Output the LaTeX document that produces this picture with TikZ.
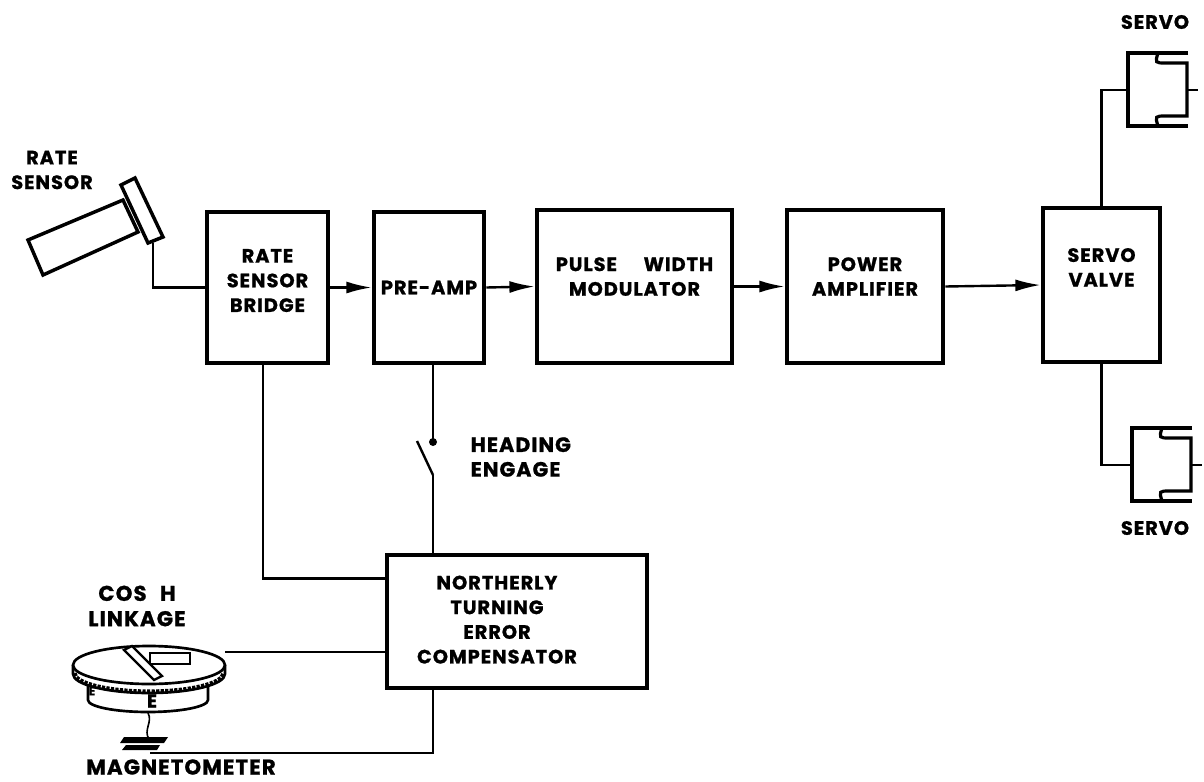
\documentclass[tikz,border=0pt]{standalone}
\usepackage{fontspec}
\setmainfont{Poppins}[LetterSpace=5, BoldFeatures={FakeBold=1}]
\usetikzlibrary{arrows.meta}
\newcommand{\dfont}{\fontsize{14.5}{18.5}\selectfont\bfseries}

\begin{document}
\begin{tikzpicture}[x=0.75pt,y=-0.75pt]
% styles
\tikzstyle{block} = [rectangle, draw, line width=3.4pt, inner sep=0pt, align=center, font=\dfont]
\tikzstyle{lbl} = [font=\dfont, align=center]
\tikzstyle{wire} = [line width=1.8pt]
\tikzstyle{sig} = [wire, -{Latex[length=19pt,width=9pt]}]
\tikzset{servo/.pic={
    \draw[line width=2.8pt] (60,0) -- (0,0) -- (0,73) -- (60,73);
    \draw[line width=2.4pt] (30,0) .. controls (27,10) .. (38,10) -- (59,10) -- (59,63) -- (38,63) .. controls (27,63) .. (30,73);
    \draw[line width=1.8pt] (59,37) -- (70,37);
}}
\useasboundingbox (0,0) rectangle (1204,782);

% main chain
\node[block, minimum width=90.75pt, minimum height=113.25pt] (bridge) at (267.5,287.5) {RATE\\SENSOR\\BRIDGE\\[-8pt]\mbox{}};
\node[block, minimum width=82.5pt, minimum height=113.25pt] (preamp) at (429,287.5) {PRE-AMP};
\node[block, minimum width=146.25pt, minimum height=114.75pt] (pwm) at (634.5,286.5) {PULSE\hspace{20pt}WIDTH\\MODULATOR\\[-3.5pt]\mbox{}};
\node[block, minimum width=117pt, minimum height=114.75pt] (pamp) at (865,286.5) {POWER\\AMPLIFIER\\[-3.5pt]\mbox{}};
\node[block, minimum width=87.75pt, minimum height=115.5pt] (valve) at (1101.5,285) {SERVO\\VALVE\\[8pt]\mbox{}};
\node[block, minimum width=195pt, minimum height=99.75pt] (comp) at (517,621.5) {\begin{tabular}{@{}c@{\hspace{30pt}}}NORTHERLY\\TURNING\\ERROR\\COMPENSATOR\end{tabular}};

\draw[sig] (bridge.east) -- (preamp.west);
\draw[sig] (preamp.east) -- (pwm.west);
\draw[sig] (pwm.east) -- (pamp.west);
\draw[sig] (pamp.east) -- (valve.west);

% rate sensor
\draw[line width=2.6pt, fill=white] (28,240) -- (123,200) -- (138,232) -- (43,275) -- cycle;
\draw[line width=2.6pt, fill=white] (121,185) -- (135,178) -- (163,237) -- (148,243) -- cycle;
\coordinate (sensor) at (153,243);
\node[lbl] (sensor-lbl) at (52,170) {RATE\\SENSOR};
\draw[wire] (sensor) |- (bridge.west);

% servos
\pic at (1128,53) {servo};
\pic at (1132,428) {servo};
\coordinate (servoA) at (1128,90);
\coordinate (servoB) at (1132,465);
\draw[wire] (valve.north) |- (servoA);
\draw[wire] (valve.south) |- (servoB);
\node[lbl] (servoA-lbl) at (1155,22) {SERVO};
\node[lbl] (servoB-lbl) at (1155,528) {SERVO};

% heading switch
\coordinate (sw-top) at (433,442);
\coordinate (sw-pivot) at (433,475);
\draw[wire] (preamp.south -| sw-top) -- (sw-top);
\fill (sw-top) circle[radius=4];
\draw[wire] (sw-pivot) -- (417,441);
\draw[wire] (sw-pivot) -- (sw-pivot |- comp.north);
\node[lbl, anchor=west, align=left, font=\bfseries\fontsize{15.5}{18.5}\selectfont] (engage) at (466,457) {HEADING\\ENGAGE};
\draw[wire] (bridge.south -| 263,0) |- (comp.162);

% magnetometer
\draw[line width=2pt, fill=white] (88,678) -- (88,700) arc[start angle=180, end angle=0, x radius=60, y radius=12] -- (208,678);
\draw[line width=2pt, fill=white] (73,665) -- (73,674) arc[start angle=180, end angle=0, x radius=76, y radius=19] -- (225,665);
\draw[line width=2.4pt, densely dotted] (75,673) arc[start angle=180, end angle=0, x radius=74, y radius=18];
\draw[line width=2pt, fill=white] (149,665) circle[x radius=76, y radius=19];
\draw[line width=1.8pt, fill=white] (150,653) rectangle (190,664);
\draw[line width=1.8pt, fill=white] (124,650) -- (132,646) -- (162,676) -- (154,680) -- cycle;
\node[font=\bfseries\fontsize{14}{14}\selectfont] (magE) at (152,701) {E};
\node[font=\bfseries\fontsize{9}{9}\selectfont] (magE2) at (92,691) {E};
\draw[line width=1.2pt] (148,713) .. controls (153,722) and (143,730) .. (149,739);
\fill (124,737) -- (168,737) -- (164,743) -- (120,743) -- cycle;
\fill (126,745) -- (160,745) -- (157,750) -- (122,750) -- cycle;
\coordinate (magtop) at (225,652);
\coordinate (magbot) at (150,753);
\draw[wire] (magtop) -- (magtop -| comp.west);
\draw[wire] (comp.south -| sw-pivot) |- (magbot);
\node[lbl, font=\bfseries\fontsize{16}{19}\selectfont] (link-lbl) at (137,606) {COS\hspace{10pt}H\\LINKAGE};
\node[lbl, font=\bfseries\fontsize{16}{16}\selectfont] (mag-lbl) at (181,767) {MAGNETOMETER};
\end{tikzpicture}
\end{document}
